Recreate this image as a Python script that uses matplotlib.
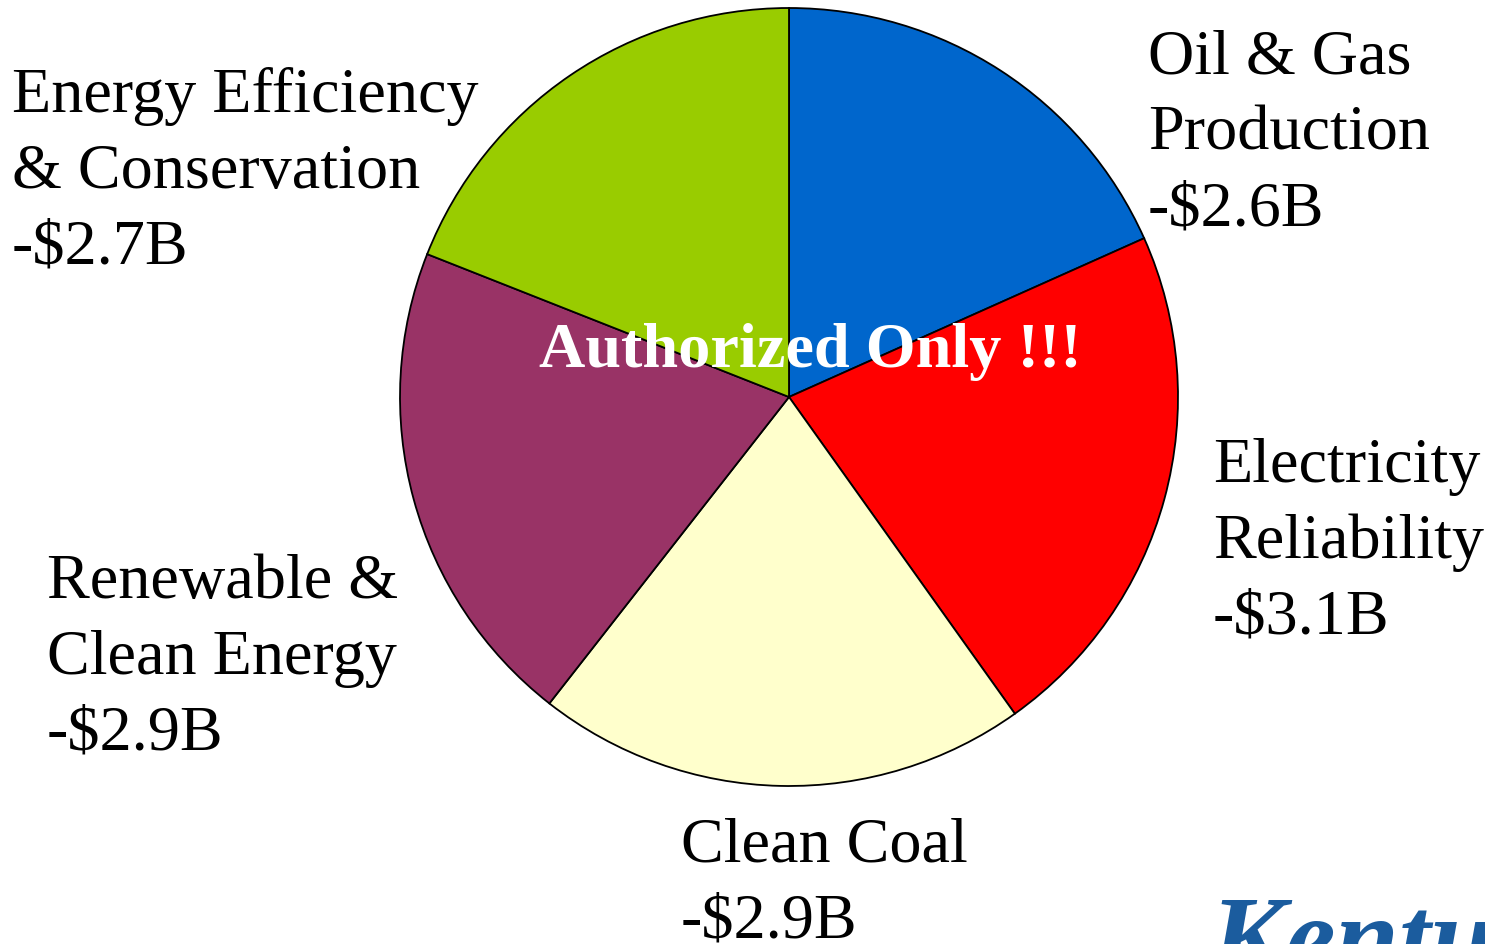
import matplotlib.pyplot as plt

# данные
labels = ["Oil & Gas\nProduction", "Electricity\nReliability", "Clean Coal",
          "Renewable &\nClean Energy", "Energy Efficiency\n& Conservation"]
values = [2.6, 3.1, 2.9, 2.9, 2.7]
colors = ["#0066CC", "#FF0000", "#FFFFCC", "#993366", "#99CC00"]

# позиции подписей (левый край, базовая линия первой строки), в пикселях
label_pos = [(1148, 74), (1213, 482), (681, 862), (47, 598), (12, 112)]

W, H = 1485, 945
fig = plt.figure(figsize=(W / 100, H / 100), dpi=100)
ax = fig.add_axes([0, 0, 1, 1])

# ось y перевёрнута, поэтому старт -90 и против часовой = по часовой на экране
ax.pie(values, colors=colors, startangle=-90, counterclock=True,
       center=(789, 398), radius=389, frame=True,
       wedgeprops=dict(edgecolor="black", linewidth=1.3))
ax.set_xlim(0, W)
ax.set_ylim(H, 0)
ax.set_aspect("equal")
ax.axis("off")

serif = ["Liberation Serif", "DejaVu Serif"]
step = 76
for lab, val, (x, y) in zip(labels, values, label_pos):
    lines = lab.split("\n") + [f"-${val:.1f}B"]
    for i, line in enumerate(lines):
        ax.text(x, y + i * step, line, fontsize=46.2, family=serif,
                ha="left", va="baseline", color="black")

ax.text(810, 367, "Authorized Only !!!", fontsize=46.3, family=serif,
        fontweight="bold", color="white", ha="center", va="baseline")

# обрезанный логотип в углу
ax.text(1210, 975, "Kentucky", fontsize=82, family=serif, fontweight="bold",
        style="italic", color="#1B5C9E", ha="left", va="baseline")

fig.savefig("out.png", dpi=100)
